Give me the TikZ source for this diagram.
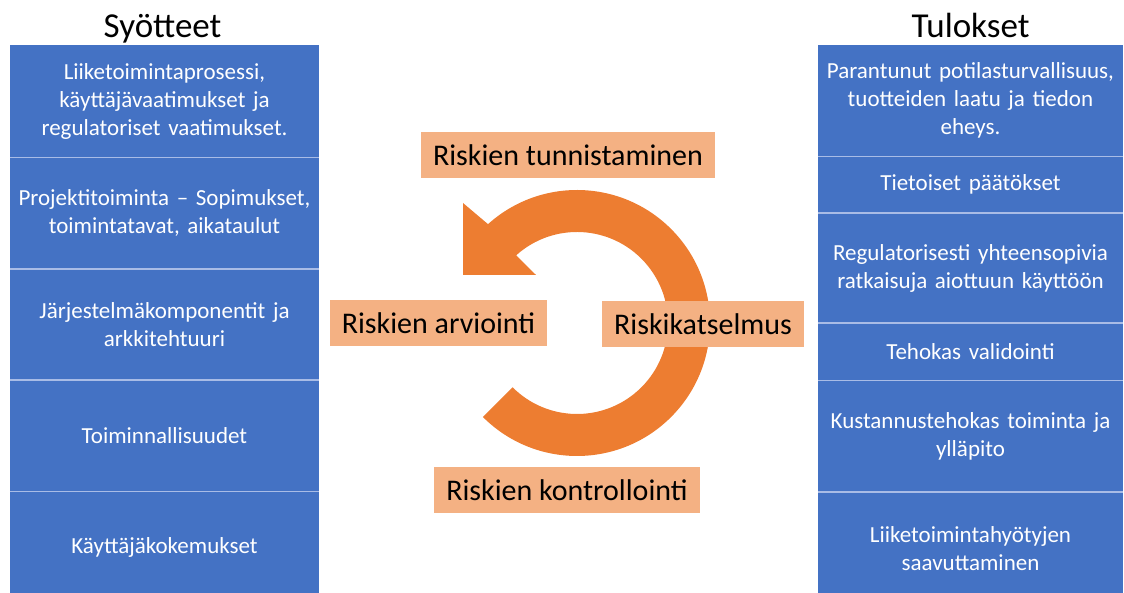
\documentclass[tikz,border=0pt]{standalone}
\usepackage{fontspec}
\setmainfont{Carlito}
\usetikzlibrary{positioning}

\definecolor{boxblue}{HTML}{4472C4}
\definecolor{sepline}{HTML}{A9BCE6}
\definecolor{arroworange}{HTML}{ED7D31}
\definecolor{labelorange}{HTML}{F4B183}

\tikzset{
  inbox/.style={fill=boxblue, text=white, minimum width=309pt, text width=302pt,
    align=center, inner sep=0pt, font=\fontsize{23}{28}\selectfont},
  outbox/.style={inbox, minimum width=305pt},
  phase/.style={fill=labelorange, inner xsep=12pt, inner ysep=0pt,
    minimum height=46pt, font=\fontsize{30}{34}\selectfont},
  coltitle/.style={anchor=base, inner sep=0pt, font=\fontsize{35}{40}\selectfont},
}

\begin{document}
\begin{tikzpicture}[x=1pt, y=1pt]
  \useasboundingbox (0,0) rectangle (1124,593);
  \clip (0,0) rectangle (1124,593);

  % inputs
  \node[inbox, minimum height=112pt, anchor=north] (in1) at (164.5,548)
    {Liiketoimintaprosessi,\\ käyttäjävaatimukset ja\\ regulatoriset vaatimukset.};
  \node[inbox, minimum height=111pt, below=0pt of in1] (in2)
    {Projektitoiminta – Sopimukset,\\ toimintatavat, aikataulut};
  \node[inbox, minimum height=111pt, below=0pt of in2] (in3)
    {Järjestelmäkomponentit ja\\ arkkitehtuuri};
  \node[inbox, minimum height=111pt, below=0pt of in3] (in4) {Toiminnallisuudet};
  \node[inbox, minimum height=112pt, below=0pt of in4] (in5) {Käyttäjäkokemukset};

  % outputs
  \node[outbox, minimum height=111pt, anchor=north] (out1) at (970.5,548)
    {Parantunut potilasturvallisuus,\\ tuotteiden laatu ja tiedon\\ eheys.};
  \node[outbox, minimum height=56pt, below=0pt of out1] (out2) {Tietoiset päätökset};
  \node[outbox, minimum height=110pt, below=0pt of out2] (out3)
    {Regulatorisesti yhteensopivia\\ ratkaisuja aiottuun käyttöön};
  \node[outbox, minimum height=57pt, below=0pt of out3] (out4) {Tehokas validointi};
  \node[outbox, minimum height=111pt, below=0pt of out4] (out5)
    {Kustannustehokas toiminta ja\\ ylläpito};
  \node[outbox, minimum height=112pt, below=0pt of out5] (out6)
    {Liiketoimintahyötyjen\\ saavuttaminen};

  \foreach \n in {in1,in2,in3,in4,out1,out2,out3,out4,out5}
    \draw[sepline, line width=1.5pt] (\n.south west) -- (\n.south east);

  \node[coltitle] (intitle) at ([xshift=-2pt, yshift=7pt]in1.north) {Syötteet};
  \node[coltitle] (outtitle) at ([yshift=7pt]out1.north) {Tulokset};

  % cycle arrow
  \coordinate (hub) at (577,270);
  \fill[arroworange] ([shift={(-135:133)}]hub) arc[start angle=-135, end angle=132, radius=133]
    -- (463,390) -- (463,318) -- (536,318)
    -- ([shift={(132:91)}]hub) arc[start angle=132, end angle=-135, radius=91] -- cycle;

  \node[phase] (identify) at (568,437.5) {Riskien tunnistaminen};
  \node[phase] (assess) at (438.5,270) {Riskien arviointi};
  \node[phase] (review) at (703,269) {Riskikatselmus};
  \node[phase] (control) at (567,102.5) {Riskien kontrollointi};
\end{tikzpicture}
\end{document}
